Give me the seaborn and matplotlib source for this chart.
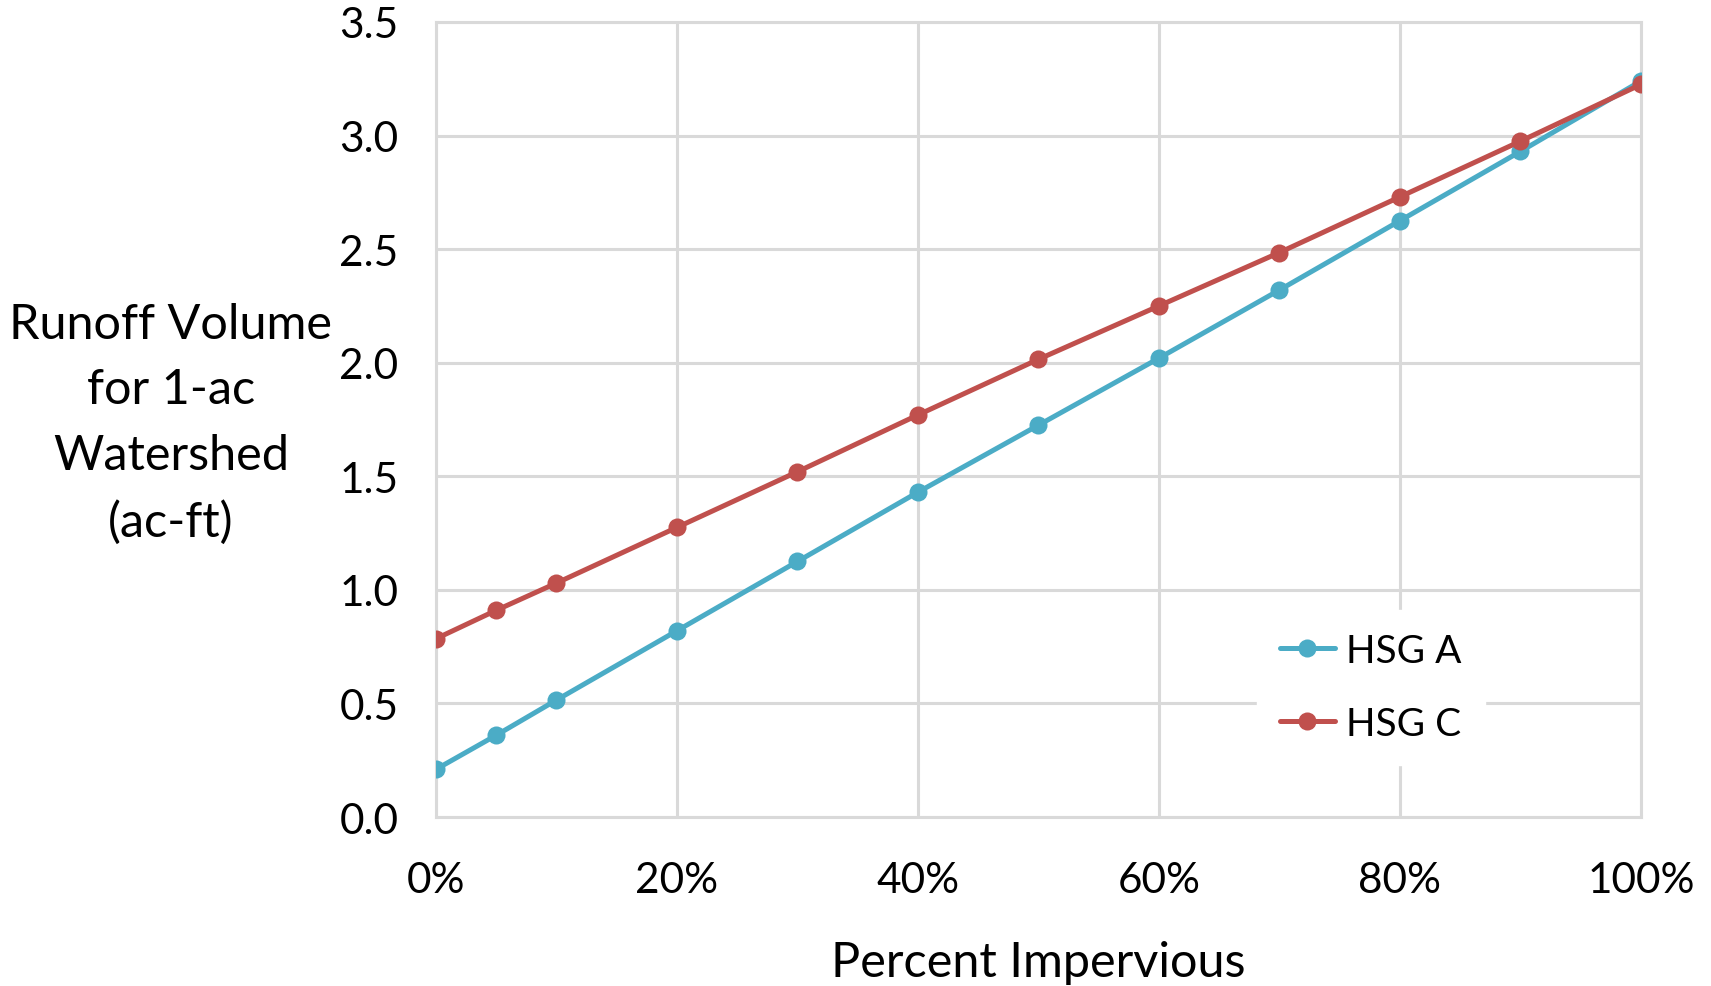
import matplotlib
matplotlib.use("Agg")
import matplotlib.pyplot as plt
import seaborn as sns
import pandas as pd
from matplotlib.ticker import FuncFormatter, MultipleLocator

# Runoff volume (ac-ft) for a 1-acre watershed vs. percent impervious cover
pct_impervious = [0, 5, 10, 20, 30, 40, 50, 60, 70, 80, 90, 100]
hsg_a = [0.21, 0.36, 0.515, 0.82, 1.125, 1.43, 1.725, 2.02, 2.32, 2.625, 2.93, 3.24]
hsg_c = [0.785, 0.91, 1.03, 1.275, 1.52, 1.77, 2.015, 2.25, 2.485, 2.73, 2.975, 3.225]
series_names = ["HSG A", "HSG C"]
series_colors = ["#4BACC6", "#C0504D"]

df = pd.concat([
    pd.DataFrame({"pct": pct_impervious, "vol": hsg_a, "HSG": series_names[0]}),
    pd.DataFrame({"pct": pct_impervious, "vol": hsg_c, "HSG": series_names[1]}),
])

sns.set_theme(style="whitegrid")
plt.rcParams["font.family"] = ["Lato", "DejaVu Sans"]

fig = plt.figure(figsize=(17.11, 9.87), dpi=100)
ax = fig.add_axes([0.2548, 0.1712, 0.7042, 0.8055])

sns.lineplot(data=df, x="pct", y="vol", hue="HSG", palette=series_colors,
             marker="o", markersize=13, markeredgewidth=0, linewidth=3.6,
             ax=ax, zorder=3)

ax.set_xlim(0, 100)
ax.set_ylim(0, 3.5)
ax.xaxis.set_major_locator(MultipleLocator(20))
ax.yaxis.set_major_locator(MultipleLocator(0.5))
ax.xaxis.set_major_formatter(FuncFormatter(lambda v, p: f"{v:.0f}%"))
ax.yaxis.set_major_formatter(FuncFormatter(lambda v, p: f"{v:.1f}"))
ax.grid(True, color="#D9D9D9", linewidth=2.2)
for name, sp in ax.spines.items():
    sp.set_visible(True)
    sp.set_color("#D9D9D9")
    sp.set_linewidth(2.2)
ax.tick_params(axis="x", labelsize=30.5, pad=32, length=0, colors="black")
ax.tick_params(axis="y", labelsize=30.5, pad=27, length=0, colors="black")

ax.set_xlabel("Percent Impervious", fontsize=35, labelpad=29, color="black")
ax.set_ylabel("Runoff Volume\nfor 1-ac\nWatershed\n(ac-ft)", fontsize=35,
              rotation=0, color="black", linespacing=1.6)
ax.yaxis.set_label_coords(-0.22, 0.496)
ax.yaxis.label.set_horizontalalignment("center")
ax.yaxis.label.set_verticalalignment("center")

leg = ax.legend(loc="center", bbox_to_anchor=(0.776, 0.163), fontsize=28,
                frameon=True, facecolor="white", edgecolor="white",
                framealpha=1.0, fancybox=False, handlelength=1.4,
                handletextpad=0.3, labelspacing=0.95, borderpad=0.6)
leg.set_zorder(5)
for t in leg.get_texts():
    t.set_color("black")

fig.savefig("out.png", dpi=100, facecolor="white")
